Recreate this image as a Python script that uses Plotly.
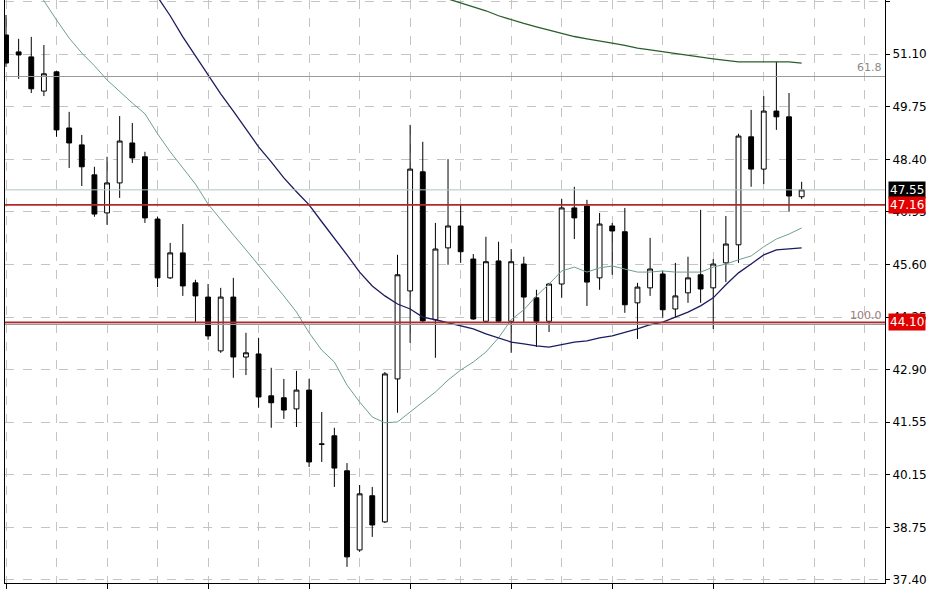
import plotly.graph_objects as go

# ---------------- data ----------------
bar_index = list(range(64))

open_ = [51.58, 51.14, 51.01, 50.12, 50.62, 49.16, 48.72, 47.94, 46.95, 47.73,
         48.77, 48.41, 46.79, 45.26, 45.91, 45.13, 44.76, 43.36, 44.76, 43.20,
         43.28, 42.19, 42.14, 41.85, 42.34, 40.94, 41.15, 40.24, 38.18, 39.59,
         38.91, 42.63, 44.92, 48.02, 44.17, 46.04, 46.61, 45.75, 44.13, 45.70,
         44.13, 45.62, 44.74, 44.13, 45.10, 47.08, 47.13, 45.26, 46.61, 46.46,
         44.61, 45.00, 45.36, 44.45, 44.87, 45.34, 45.00, 45.65, 46.12, 48.93,
         48.09, 49.60, 49.45, 47.37]
high = [52.10, 51.48, 51.53, 51.32, 50.65, 49.58, 48.98, 48.15, 48.41, 49.47,
        49.29, 48.54, 46.85, 46.17, 46.66, 45.21, 45.10, 45.00, 45.26, 43.83,
        43.70, 42.92, 42.63, 42.84, 42.63, 41.77, 41.36, 40.44, 39.87, 39.82,
        42.81, 45.86, 49.24, 48.80, 46.69, 48.35, 47.16, 45.88, 46.33, 46.20,
        46.01, 45.81, 44.95, 45.13, 47.31, 47.63, 47.29, 46.95, 46.69, 47.08,
        45.13, 46.30, 45.44, 45.65, 45.81, 47.03, 45.75, 46.87, 49.01, 49.63,
        49.99, 50.88, 50.07, 47.76]
low = [50.75, 50.44, 50.07, 49.99, 48.93, 48.12, 47.65, 46.85, 46.64, 47.34,
       48.25, 46.69, 45.02, 45.23, 44.79, 44.11, 43.65, 43.31, 42.66, 42.73,
       41.88, 41.36, 41.59, 41.38, 40.34, 40.47, 39.82, 37.74, 38.13, 38.52,
       38.88, 41.75, 43.57, 44.10, 43.18, 45.60, 45.65, 44.17, 44.10, 44.10,
       43.31, 44.10, 43.46, 43.85, 44.74, 46.27, 44.53, 44.95, 45.34, 44.35,
       43.67, 44.79, 44.22, 44.24, 44.61, 44.61, 43.93, 45.15, 45.65, 47.63,
       47.70, 49.11, 46.98, 47.31]
close = [50.85, 51.06, 50.18, 50.57, 49.11, 48.77, 48.15, 46.92, 47.73, 48.82,
         48.38, 46.82, 45.26, 45.91, 45.05, 44.79, 43.75, 44.76, 43.20, 43.31,
         42.16, 42.01, 41.82, 42.34, 40.47, 40.93, 40.31, 38.00, 39.64, 38.83,
         42.76, 45.34, 48.09, 44.14, 46.01, 46.61, 45.94, 44.19, 45.68, 44.13,
         45.68, 44.76, 44.13, 45.10, 47.08, 46.82, 45.15, 46.66, 46.48, 44.56,
         45.02, 45.49, 44.43, 44.79, 45.26, 44.97, 45.62, 46.14, 48.95, 48.09,
         49.60, 49.45, 47.39, 47.55]

ma_fast = [None, None, 52.91, 52.47, 51.97, 51.50, 51.11, 50.78, 50.41, 50.10,
           49.81, 49.53, 49.01, 48.54, 48.12, 47.70, 47.18, 46.77, 46.38, 45.99,
           45.60, 45.21, 44.79, 44.37, 43.83, 43.38, 43.07, 42.47, 42.03, 41.64,
           41.49, 41.51, 41.77, 42.01, 42.29, 42.60, 42.86, 43.07, 43.33, 43.70,
           44.17, 44.43, 44.79, 45.10, 45.44, 45.54, 45.41, 45.52, 45.57, 45.49,
           45.41, 45.41, 45.44, 45.41, 45.41, 45.41, 45.54, 45.62, 45.73, 45.83,
           46.07, 46.27, 46.40, 46.56]
ma_mid = [None] * 12 + [52.57, 52.08, 51.53, 51.04, 50.54, 50.05, 49.60, 49.14,
           48.67, 48.28, 47.86, 47.50, 47.16, 46.72, 46.30, 45.86, 45.41, 45.05,
           44.79, 44.58, 44.45, 44.24, 44.17, 44.09, 44.01, 43.93, 43.80, 43.70,
           43.59, 43.54, 43.49, 43.46, 43.52, 43.59, 43.62, 43.70, 43.75, 43.83,
           43.93, 44.04, 44.11, 44.24, 44.37, 44.53, 44.74, 45.08, 45.39, 45.62,
           45.86, 45.99, 46.01, 46.04]
ma_slow = [None] * 34 + [52.62, 52.52, 52.43, 52.31, 52.21, 52.08, 51.97, 51.88,
           51.79, 51.70, 51.61, 51.54, 51.48, 51.43, 51.37, 51.31, 51.24, 51.19,
           51.14, 51.09, 51.05, 51.01, 50.96, 50.92, 50.88, 50.88, 50.88, 50.88,
           50.88, 50.85]

y_tick_labels = ["37.40", "38.75", "40.15", "41.55", "42.90", "44.25",
                 "45.60", "46.95", "48.40", "49.75", "51.10", "52.45"]
y_tick_step = 1.368
x_tick_labels = ["22 Sep 2011", "27 Sep 2011", "3 Oct 2011", "6 Oct 2011",
                 "11 Oct 2011", "14 Oct 2011", "19 Oct 2011", "24 Oct 2011"]

bid_price = 47.55
level_high = 47.16
level_low = 44.10
fib_618 = 50.50
fib_100 = 44.05

# ---------------- figure ----------------
fig = go.Figure()

fig.add_trace(go.Candlestick(
    x=bar_index, open=open_, high=high, low=low, close=close,
    increasing=dict(line=dict(color="#000000", width=1), fillcolor="#ffffff"),
    decreasing=dict(line=dict(color="#000000", width=1), fillcolor="#000000"),
    whiskerwidth=0, hoverinfo="skip", showlegend=False))

fig.add_trace(go.Scatter(x=bar_index, y=ma_fast, mode="lines",
                         line=dict(color="#6f9f8c", width=1), hoverinfo="skip",
                         showlegend=False))
fig.add_trace(go.Scatter(x=bar_index, y=ma_mid, mode="lines",
                         line=dict(color="#1c1c5e", width=1.3), hoverinfo="skip",
                         showlegend=False))
fig.add_trace(go.Scatter(x=bar_index, y=ma_slow, mode="lines",
                         line=dict(color="#2a5e2a", width=1.3), hoverinfo="skip",
                         showlegend=False))

# horizontal lines
def hline(y, color, width):
    fig.add_shape(type="line", xref="paper", x0=0, x1=1, yref="y", y0=y, y1=y,
                  line=dict(color=color, width=width), layer="above")

hline(fib_618, "#9a9a9a", 1.2)
hline(fib_100, "#9a9a9a", 1.2)
hline(bid_price, "#b4c4bc", 1)
hline(level_high, "#b02a2a", 1.8)
hline(level_low, "#b02a2a", 1.8)

fig.add_annotation(xref="paper", x=1, xanchor="right", xshift=-1, y=fib_618,
                   yanchor="bottom", text="61.8", showarrow=False,
                   font=dict(family="DejaVu Sans", size=11, color="#8a8a8a"))
fig.add_annotation(xref="paper", x=1, xanchor="right", xshift=-1, y=fib_100,
                   yanchor="bottom", text="100.0", showarrow=False,
                   font=dict(family="DejaVu Sans", size=11, color="#a07a7a"))

# price tags on right axis
for price, bg in [(bid_price, "#000000"), (level_high, "#e00000"), (level_low, "#e00000")]:
    fig.add_annotation(xref="paper", x=1, xanchor="left", xshift=3, y=price,
                       yanchor="middle", text=f"{price:.2f}", showarrow=False,
                       bgcolor=bg, borderpad=1,
                       font=dict(family="DejaVu Sans", size=12, color="#ffffff"))

y_tick_vals = [37.40 + k * y_tick_step for k in range(len(y_tick_labels))]

fig.update_layout(
    width=948, height=593,
    margin=dict(l=5, r=63, t=0, b=10, autoexpand=False),
    paper_bgcolor="#ffffff", plot_bgcolor="#ffffff",
    boxgap=0.45,
    showlegend=False,
    font=dict(family="DejaVu Sans", size=11, color="#000000"),
    xaxis=dict(
        range=[-0.08, 69.6], rangeslider=dict(visible=False),
        automargin=False,
        tickvals=[8 * k for k in range(len(x_tick_labels))],
        ticktext=x_tick_labels, ticks="outside", ticklen=5, tickcolor="#000000",
        ticklabelshift=38,
        showgrid=False, zeroline=False,
        showline=True, linecolor="#000000", linewidth=1,
        minor=dict(tick0=0, dtick=4, showgrid=True, griddash="dash",
                   gridcolor="#c4c4c4", gridwidth=1, ticks=""),
        tickfont=dict(size=11),
    ),
    yaxis=dict(
        side="right", range=[37.32, 52.49], automargin=False,
        tickvals=y_tick_vals, ticktext=y_tick_labels,
        ticks="outside", ticklen=4, tickcolor="#000000",
        showgrid=True, griddash="dash", gridcolor="#c4c4c4", gridwidth=1,
        zeroline=False, showline=True, linecolor="#000000", linewidth=1,
        mirror=True, tickfont=dict(size=12),
    ),
)

fig.write_html(
    "out.html",
    config={"displayModeBar": False, "staticPlot": True},
    post_script="document.body.style.margin='0';document.body.style.overflow='hidden';",
)
